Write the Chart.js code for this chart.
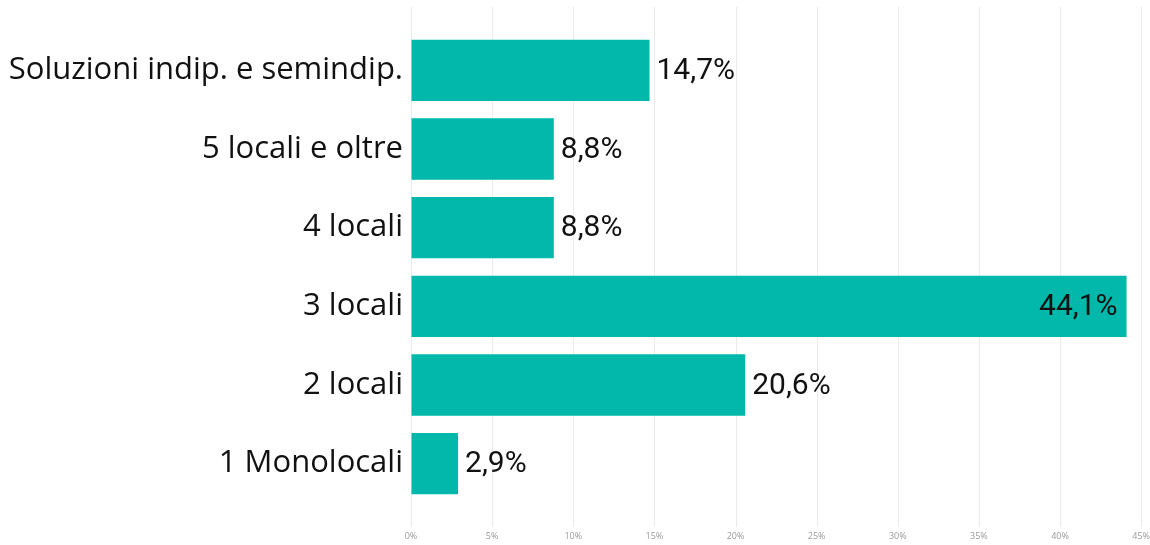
<!DOCTYPE html>
<html lang="it">
<head>
  <meta charset="UTF-8" />
  <title>Tipologie</title>
  <script src="https://cdn.jsdelivr.net/npm/chart.js"></script>
  <style>
    body { margin: 0; background: #fff; }
    .wrap { position: relative; width: 1150px; height: 545px; }
  </style>
</head>
<body>
  <div class="wrap"><canvas id="chart"></canvas></div>
  <script>
    const categories = ['Soluzioni indip. e semindip.', '5 locali e oltre', '4 locali', '3 locali', '2 locali', '1 Monolocali'];
    const shares = [14.7, 8.8, 8.8, 44.1, 20.6, 2.9];
    const axisMax = 45;
    const axisStep = 5;

    const barColor = '#01B8AA';
    const gridColor = '#ebebeb';

    const fmt = v => v.toFixed(1).replace('.', ',') + '%';

    // grid lines run above and below the bar area, so they are drawn here
    const gridPlugin = {
      id: 'tallGrid',
      beforeDatasetsDraw(chart) {
        const ctx = chart.ctx;
        const x = chart.scales.x;
        ctx.save();
        ctx.strokeStyle = gridColor;
        ctx.lineWidth = 1;
        x.ticks.forEach(t => {
          const px = Math.round(x.getPixelForValue(t.value)) + 0.5;
          ctx.beginPath();
          ctx.moveTo(px, 7);
          ctx.lineTo(px, 527);
          ctx.stroke();
        });
        ctx.restore();
      }
    };

    const valueLabels = {
      id: 'valueLabels',
      afterDatasetsDraw(chart) {
        const ctx = chart.ctx;
        const area = chart.chartArea;
        ctx.save();
        ctx.font = '30px Roboto';
        ctx.fillStyle = '#111';
        ctx.textBaseline = 'middle';
        chart.getDatasetMeta(0).data.forEach((bar, i) => {
          const txt = fmt(shares[i]);
          const w = ctx.measureText(txt).width;
          if (bar.x + 7 + w > area.right) {
            ctx.textAlign = 'right';
            ctx.fillText(txt, bar.x - 9, bar.y + 1);
          } else {
            ctx.textAlign = 'left';
            ctx.fillText(txt, bar.x + 7, bar.y + 1);
          }
        });
        ctx.restore();
      }
    };

    new Chart(document.getElementById('chart'), {
      type: 'bar',
      data: {
        labels: categories,
        datasets: [{
          data: shares,
          backgroundColor: barColor,
          barPercentage: 0.78,
          categoryPercentage: 1
        }]
      },
      options: {
        indexAxis: 'y',
        responsive: true,
        maintainAspectRatio: false,
        animation: false,
        layout: { padding: { top: 31, right: 5, bottom: 0, left: 0 } },
        plugins: { legend: { display: false }, tooltip: { enabled: false } },
        scales: {
          x: {
            min: 0,
            max: axisMax,
            border: { display: false },
            grid: { display: true, color: 'rgba(0,0,0,0)', drawOnChartArea: false, tickLength: 28 },
            afterFit: s => { s.height = 42; },
            ticks: {
              stepSize: axisStep,
              padding: 0,
              color: '#9a9a9a',
              font: { family: 'Open Sans', size: 9 },
              callback: v => v + '%'
            }
          },
          y: {
            border: { display: false },
            grid: { display: false, drawTicks: false },
            afterFit: s => { s.width = 411; },
            ticks: {
              padding: 8,
              color: '#111',
              font: { family: 'Open Sans', size: 31 }
            }
          }
        }
      },
      plugins: [gridPlugin, valueLabels]
    });
  </script>
</body>
</html>
